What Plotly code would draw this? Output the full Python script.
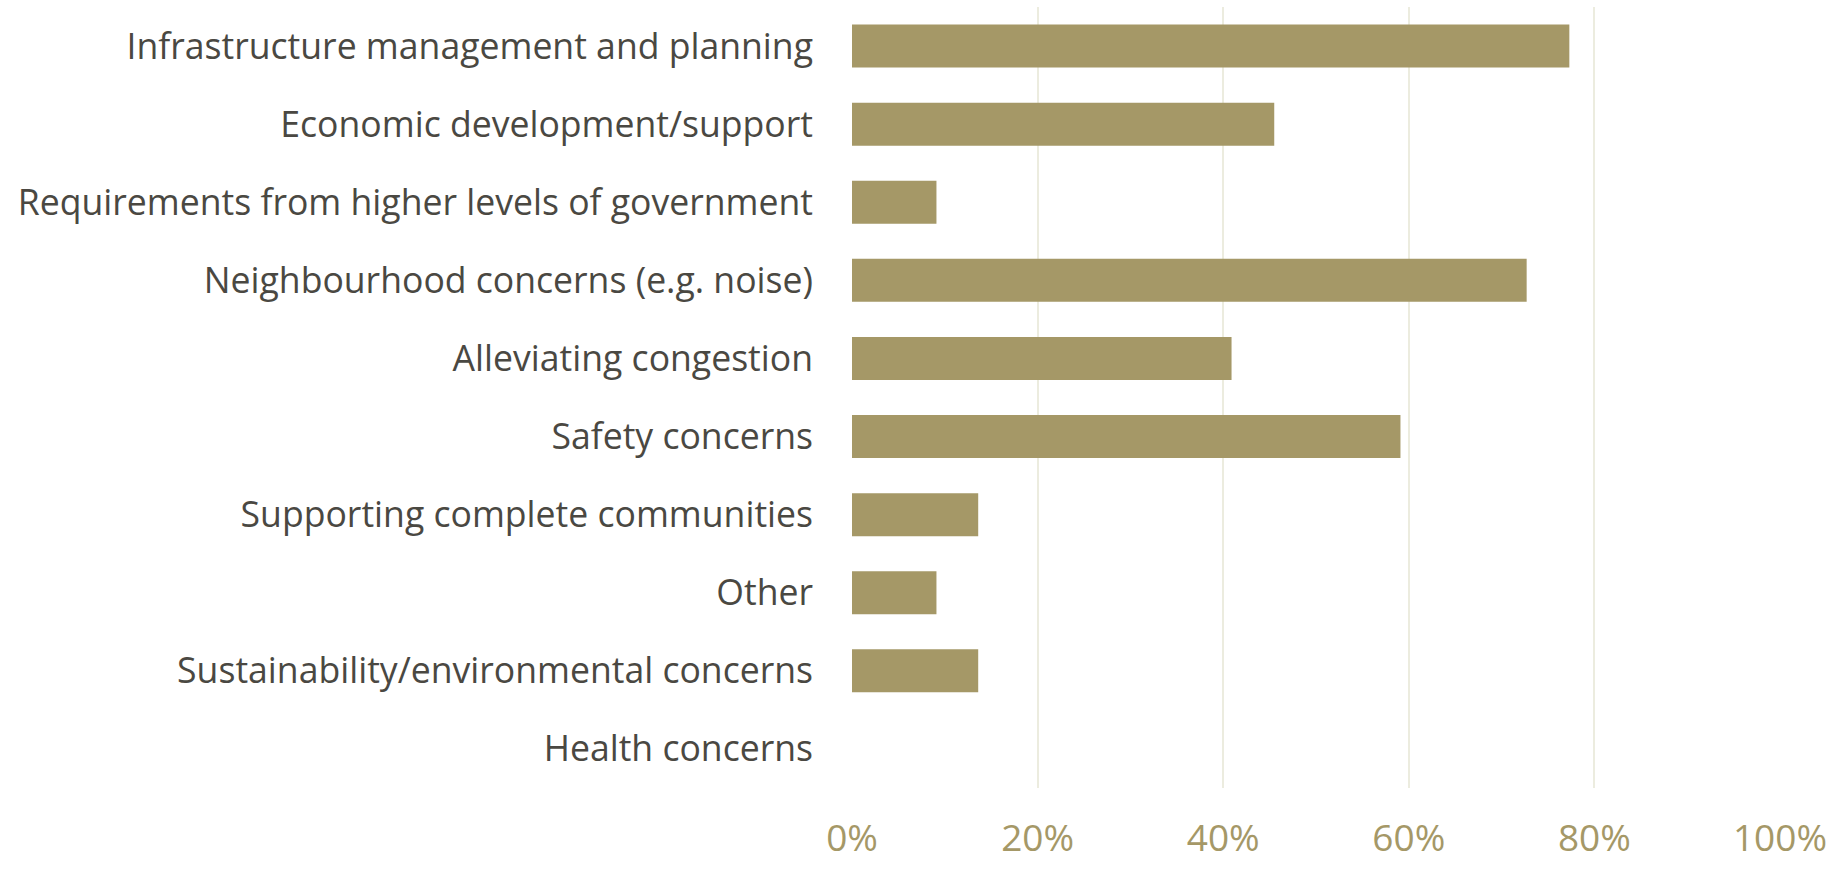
import plotly.graph_objects as go

categories = [
    "Infrastructure management and planning",
    "Economic development/support",
    "Requirements from higher levels of government",
    "Neighbourhood concerns (e.g. noise)",
    "Alleviating congestion",
    "Safety concerns",
    "Supporting complete communities",
    "Other",
    "Sustainability/environmental concerns",
    "Health concerns",
]
values = [77.3, 45.5, 9.1, 72.7, 40.9, 59.1, 13.6, 9.1, 13.6, 0.0]
tick_vals = [0, 20, 40, 60, 80, 100]
tick_text = ["0%", "20%", "40%", "60%", "80%", "100%"]

fig = go.Figure(
    go.Bar(
        x=values,
        y=categories,
        orientation="h",
        marker=dict(color="#A59867", line=dict(width=0)),
        width=0.55,
        hoverinfo="x+y",
    )
)

fig.update_layout(
    width=1840,
    height=869,
    margin=dict(l=852, r=60, t=7, b=75),
    paper_bgcolor="white",
    plot_bgcolor="white",
    showlegend=False,
    font=dict(family="Open Sans", color="#4A4842"),
)

fig.update_xaxes(
    range=[0, 100],
    tickvals=tick_vals,
    ticktext=tick_text,
    showgrid=True,
    gridcolor="#ECECDF",
    gridwidth=2,
    zeroline=False,
    showline=False,
    ticks="",
    tickfont=dict(family="Open Sans", size=37, color="#A59867"),
    ticklabelstandoff=25,
    fixedrange=True,
)

fig.update_yaxes(
    autorange="reversed",
    showgrid=False,
    zeroline=False,
    showline=False,
    ticks="",
    tickfont=dict(family="Open Sans", size=35.6, color="#4A4842"),
    ticklabelstandoff=38,
    fixedrange=True,
)

fig.write_html("out.html")
